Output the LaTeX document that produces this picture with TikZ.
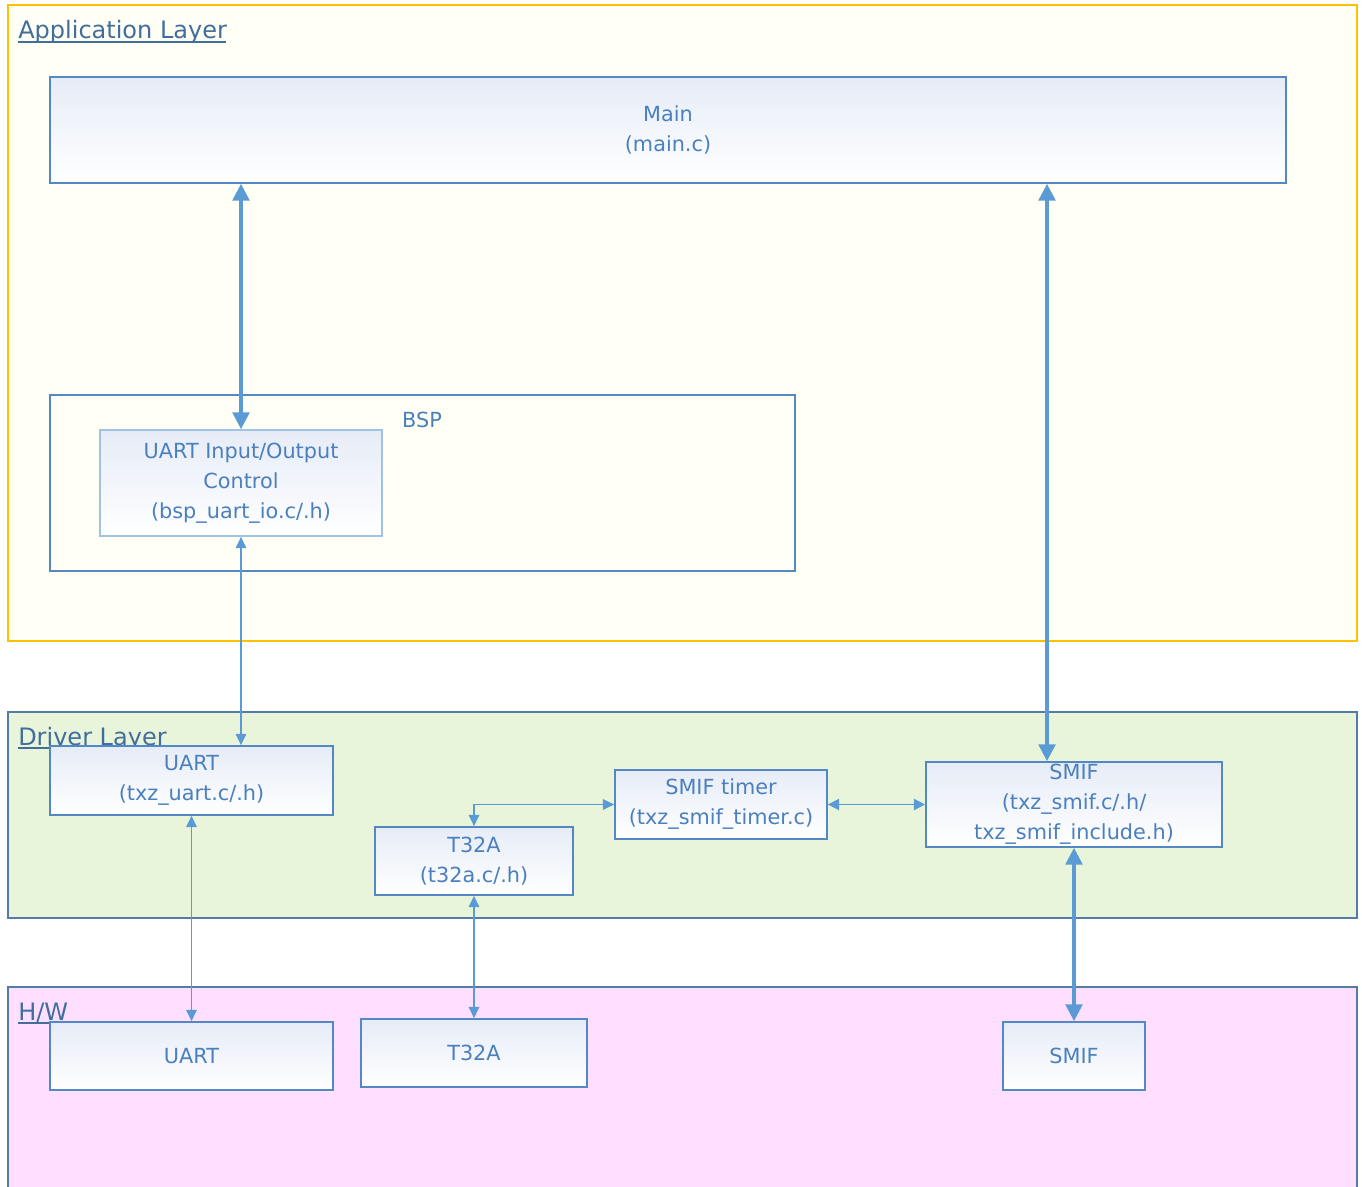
\documentclass[tikz,border=0pt]{standalone}
\usepackage{fontspec}
\setmainfont{DejaVu Sans}
\usetikzlibrary{arrows.meta}
\definecolor{appfill}{RGB}{255,255,245}
\definecolor{appline}{RGB}{255,192,0}
\definecolor{drvfill}{RGB}{233,245,219}
\definecolor{hwfill}{RGB}{255,223,255}
\definecolor{layline}{RGB}{84,124,164}
\definecolor{boxline}{RGB}{84,136,196}
\definecolor{lightline}{RGB}{160,195,228}
\definecolor{gradtop}{RGB}{230,236,247}
\definecolor{txtcol}{RGB}{74,128,190}
\definecolor{titlecol}{RGB}{65,110,155}
\definecolor{arrcol}{RGB}{91,155,213}
\begin{document}
\begin{tikzpicture}[x=0.75pt,y=-0.75pt,
  sz/.style 2 args={minimum width={#1*0.75pt}, minimum height={#2*0.75pt}},
  boxtext/.style={font=\fontsize{15.6}{22.5}\selectfont, text=txtcol, align=center, inner sep=0pt},
  box/.style={boxtext, draw=boxline, line width=1.3pt, top color=gradtop, bottom color=white},
  lbox/.style={box, draw=lightline},
  title/.style={font=\fontsize{18}{22}\selectfont, text=titlecol, anchor=base west, inner sep=0pt},
  uline/.style={draw=titlecol, line width=0.8pt},
  thickarr/.style={draw=arrcol, line width=2.3pt, {Triangle[length=12.5pt,width=12.5pt]}-{Triangle[length=12.5pt,width=12.5pt]}},
  thinarr/.style={draw=arrcol, line width=0.8pt, {Triangle[length=8.5pt,width=8pt]}-{Triangle[length=8.5pt,width=8pt]}},
  midarr/.style={draw=arrcol, line width=1.1pt, {Triangle[length=8.5pt,width=8.5pt]}-{Triangle[length=8.5pt,width=8.5pt]}}
]
\useasboundingbox (0,0) rectangle (1362,1187);
\fill[white] (0,0) rectangle (1362,1187);

% layers
\path[fill=appfill, draw=appline, line width=1.3pt] (8,5) rectangle (1357,641);
\path[fill=drvfill, draw=layline, line width=1.3pt] (8,712) rectangle (1357,918);
\path[fill=hwfill, draw=layline, line width=1.3pt] (8,987) rectangle (1357,1200);

\node[title] (tapp) at (18,39) {Application Layer};
\draw[uline] (tapp.base west) ++(0,3) -- ++(208,0);
\node[title] (tdrv) at (18,745) {Driver Layer};
\draw[uline] (tdrv.base west) ++(0,3) -- ++(150,0);
\node[title] (thw) at (18,1020) {H/W};
\draw[uline] (thw.base west) ++(0,3) -- ++(54,0);

% application layer
\node[box, sz={1236}{106}] (main) at (668,130) {Main\\(main.c)};
\node[draw=boxline, line width=1.3pt, sz={745}{176}, inner sep=0pt] (bsp) at (422.5,483) {};
\node[boxtext] (bsplabel) at (422,420) {BSP};
\node[lbox, sz={282}{106}] (uio) at (241,483) {UART Input/Output\\Control\\(bsp\_uart\_io.c/.h)};

% driver layer
\node[box, sz={283}{69}] (uartd) at (191.5,780.5) {UART\\(txz\_uart.c/.h)};
\node[box, sz={212}{69}] (timer) at (721,804.5) {SMIF timer\\(txz\_smif\_timer.c)};
\node[box, sz={198}{68}] (t32ad) at (474,861) {T32A\\(t32a.c/.h)};
\node[box, sz={296}{85}] (smifd) at (1074,804.5) {SMIF\\(txz\_smif.c/.h/\\txz\_smif\_include.h)};

% hw layer
\node[box, sz={283}{68}] (uarth) at (191.5,1056) {UART};
\node[box, sz={226}{68}] (t32ah) at (474,1053) {T32A};
\node[box, sz={142}{68}] (smifh) at (1074,1056) {SMIF};

% connectors
\coordinate (cx) at (1047,0);
\draw[thickarr] (uio.north |- main.south) -- (uio.north);
\draw[thickarr] (cx |- main.south) -- (cx |- smifd.north);
\draw[thinarr] (uio.south) -- (uio.south |- uartd.north);
\draw[thinarr] (uartd.south) -- (uarth.north);
\draw[thinarr] (t32ad.south) -- (t32ah.north);
\draw[thinarr] (timer.west) -| (t32ad.north);
\draw[midarr] (timer.east) -- (timer.east -| smifd.west);
\draw[thickarr] (smifd.south) -- (smifh.north);
\end{tikzpicture}
\end{document}
